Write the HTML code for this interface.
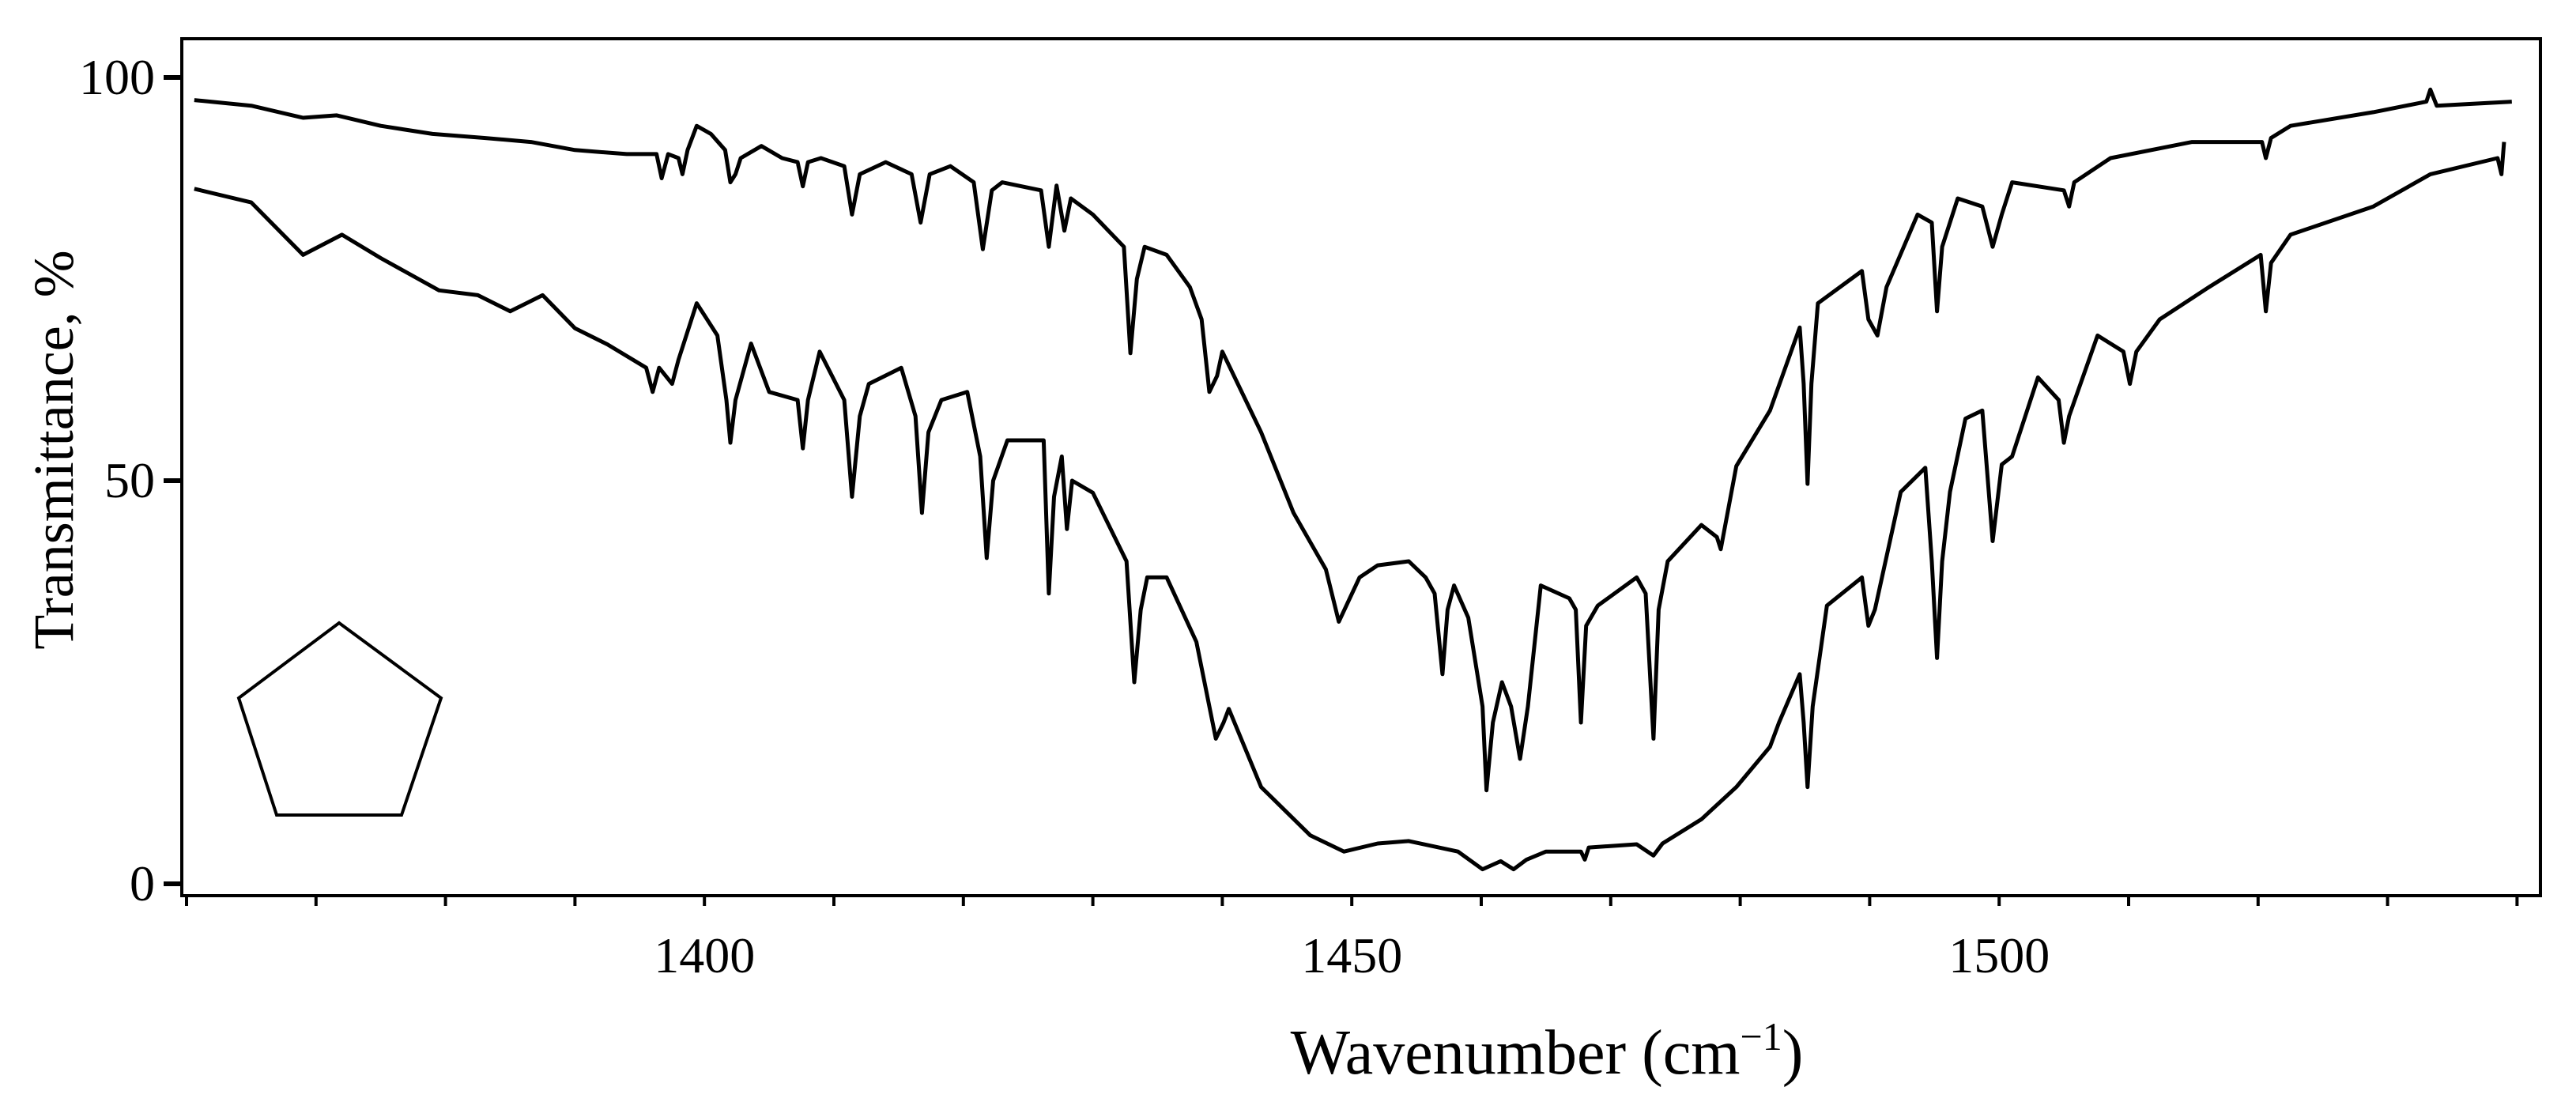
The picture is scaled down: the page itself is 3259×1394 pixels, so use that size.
<!DOCTYPE html>
<html><head><meta charset="utf-8"><style>
html,body{margin:0;padding:0;background:#fff;}
svg{display:block;font-family:"Liberation Serif",serif;}
</style></head><body>
<svg id="chart" width="3259" height="1394" viewBox="0 0 3259 1394" xmlns="http://www.w3.org/2000/svg">
<rect x="230" y="49" width="2984" height="1084" fill="none" stroke="#000" stroke-width="4"/>
<g id="xticks"></g>
<g id="yticks"></g>
<g id="series"></g>
<polygon points="429,788 558,883 508,1031 350,1031 302,883" fill="none" stroke="#000" stroke-width="4"/>
<text x="1957" y="1358" font-size="80" text-anchor="middle">Wavenumber (cm<tspan font-size="50" dy="-30">−1</tspan><tspan dy="30">)</tspan></text>
<text transform="translate(92,569) rotate(-90)" font-size="72" text-anchor="middle">Transmittance, %</text>
</svg>
<script>
const xTickValues=[1360,1370,1380,1390,1400,1410,1420,1430,1440,1450,1460,1470,1480,1490,1500,1510,1520,1530,1540];
const xTickLabels=[1400,1450,1500];
const yTickLabels=[0,50,100];
const upperX=[1360.6,1365,1369,1371.6,1375,1379,1383,1386.6,1390,1394,1396.3,1396.7,1397.2,1398,1398.3,1398.7,1399.4,1400.5,1401.6,1402,1402.4,1402.8,1404.4,1406,1407.2,1407.6,1408,1409,1410.8,1411.4,1412,1414,1416,1416.7,1417.4,1419,1420.8,1421.5,1422.2,1423,1426,1426.6,1427.2,1427.8,1428.3,1430,1432.4,1432.9,1433.4,1434,1435.7,1437.5,1438.4,1439,1439.6,1440,1443,1445.5,1448,1449,1450.6,1452,1454.4,1455.7,1456.4,1457,1457.4,1457.9,1459,1460.1,1460.4,1460.9,1461.6,1462.3,1463,1463.6,1464.6,1466.8,1467.3,1467.7,1468.1,1469,1472,1472.7,1473.3,1473.7,1474.4,1477,1478.2,1478.5,1479.7,1482.3,1484.6,1484.9,1485.2,1485.5,1486,1489.4,1489.9,1490.6,1491.3,1493.7,1494.8,1495.2,1495.6,1496.8,1498.7,1499.5,1500.2,1501,1505,1505.4,1505.8,1508.6,1514.9,1520.3,1520.6,1521,1522.5,1528.9,1533,1533.3,1533.8,1539.6];
const upperT=[97.2,96.5,95,95.3,94,93,92.5,92,91,90.5,90.5,87.5,90.5,90,88,91,94,93,91,87,88,90,91.5,90,89.5,86.5,89.5,90,89,83,88,89.5,88,82,88,89,87,78.7,86,87,86,79,86.6,81,85,83,79,65.8,75,79,78,74,70,61,63,66,56,46,39,32.5,38,39.5,40,38,36,26,34,37,33,22,11.6,20,25,22,15.5,22,37,35.4,34,20,32,34.5,38,36,18,34,40,44.5,43,41.5,51.8,58.7,69,62,49.6,62,72,76,70,68,74,83,82,71,79,85,84,79,83,87,86,84,87,90,92,92,90,92.5,94,95.7,97,98.5,96.5,97];
const lowerX=[1360.6,1365,1369,1372,1375,1379.5,1382.5,1385,1387.5,1390,1392.5,1395.5,1396,1396.5,1397.5,1398,1399.4,1401,1401.7,1402,1402.4,1403.6,1405,1407.2,1407.6,1408,1408.9,1410.8,1411.4,1412,1412.7,1415.2,1416.3,1416.8,1417.3,1418.3,1420.3,1421.3,1421.8,1422.3,1423.4,1426.2,1426.6,1427,1427.6,1428,1428.4,1430,1432.6,1433.2,1433.7,1434.2,1435.7,1438,1439,1439.5,1440.1,1440.5,1443,1446.8,1449.4,1452,1454.4,1458.2,1460.1,1461.5,1462.5,1463.5,1465,1467.7,1468,1468.3,1472,1473.3,1474,1477,1479.7,1482.3,1483,1484.6,1484.9,1485.2,1485.6,1486.7,1489.4,1489.9,1490.4,1492.4,1494.3,1494.8,1495.2,1495.6,1496.2,1497.4,1498.7,1499.5,1500.2,1501,1503,1504.6,1505,1505.4,1507.6,1509.6,1510.1,1510.6,1512.4,1516.2,1520.2,1520.6,1521,1522.5,1528.9,1533.3,1538.5,1538.8,1539];
const lowerT=[86.2,84.5,78,80.5,77.6,73.6,73,71,73,68.9,66.9,64,61,64,62,65,72,68,60,54.7,60,67,61,60,54,60,66,60,48,58,62,64,58,46,56,60,61,53,40.4,50,55,55,36,48,53,44,50,48.5,40,25,34,38,38,30,22,18,20,21.7,12,6,4,5,5.3,4,1.8,2.8,1.8,3,4,4,3,4.5,4.9,3.5,5,8,12,17,20,26,20,12,22,34.5,38,32,34,48.6,51.6,40,28,40,48.6,57.7,58.7,42.5,52,53,62.8,60,54.7,58,68,66,62,66,70,74,78,71,77,80.5,84,88,90,88,92];

const X0=1360,PX0=236,PXU=16.38;
const xScale=v=>PX0+(v-X0)*PXU;
const yScale=t=>1118-t*10.2;
const NS='http://www.w3.org/2000/svg';
function mk(tag,attrs,parent){const e=document.createElementNS(NS,tag);for(const k in attrs)e.setAttribute(k,attrs[k]);parent.appendChild(e);return e;}
const xg=document.getElementById('xticks');
xTickValues.forEach(v=>{
  const t=mk('line',{x1:xScale(v),x2:xScale(v),y1:1133,y2:1146,stroke:'#000','stroke-width':4},xg);
  
  
});
xTickLabels.forEach(v=>{
  const t=mk('text',{x:xScale(v),y:1230,'font-size':64,'text-anchor':'middle'},xg);
  t.textContent=v;
  
  
});
const yg=document.getElementById('yticks');
yTickLabels.forEach(v=>{
  const l=mk('line',{x1:207,x2:230,y1:yScale(v),y2:yScale(v),stroke:'#000','stroke-width':6},yg);
  
  
  const t=mk('text',{x:196,y:yScale(v)+21,'font-size':64,'text-anchor':'end'},yg);
  t.textContent=v;
  
  
});
const sg=document.getElementById('series');
function draw(xs,ts,name){
  const d=xs.map((x,i)=>(i?'L':'M')+xScale(x).toFixed(1)+','+yScale(ts[i]).toFixed(1)).join(' ');
  const p=mk('path',{d:d,fill:'none',stroke:'#000','stroke-width':5,'stroke-linejoin':'round'},sg);
  
  
}
draw(upperX,upperT,'upper-spectrum-line');
draw(lowerX,lowerT,'lower-spectrum-line');
</script>
</body></html>
